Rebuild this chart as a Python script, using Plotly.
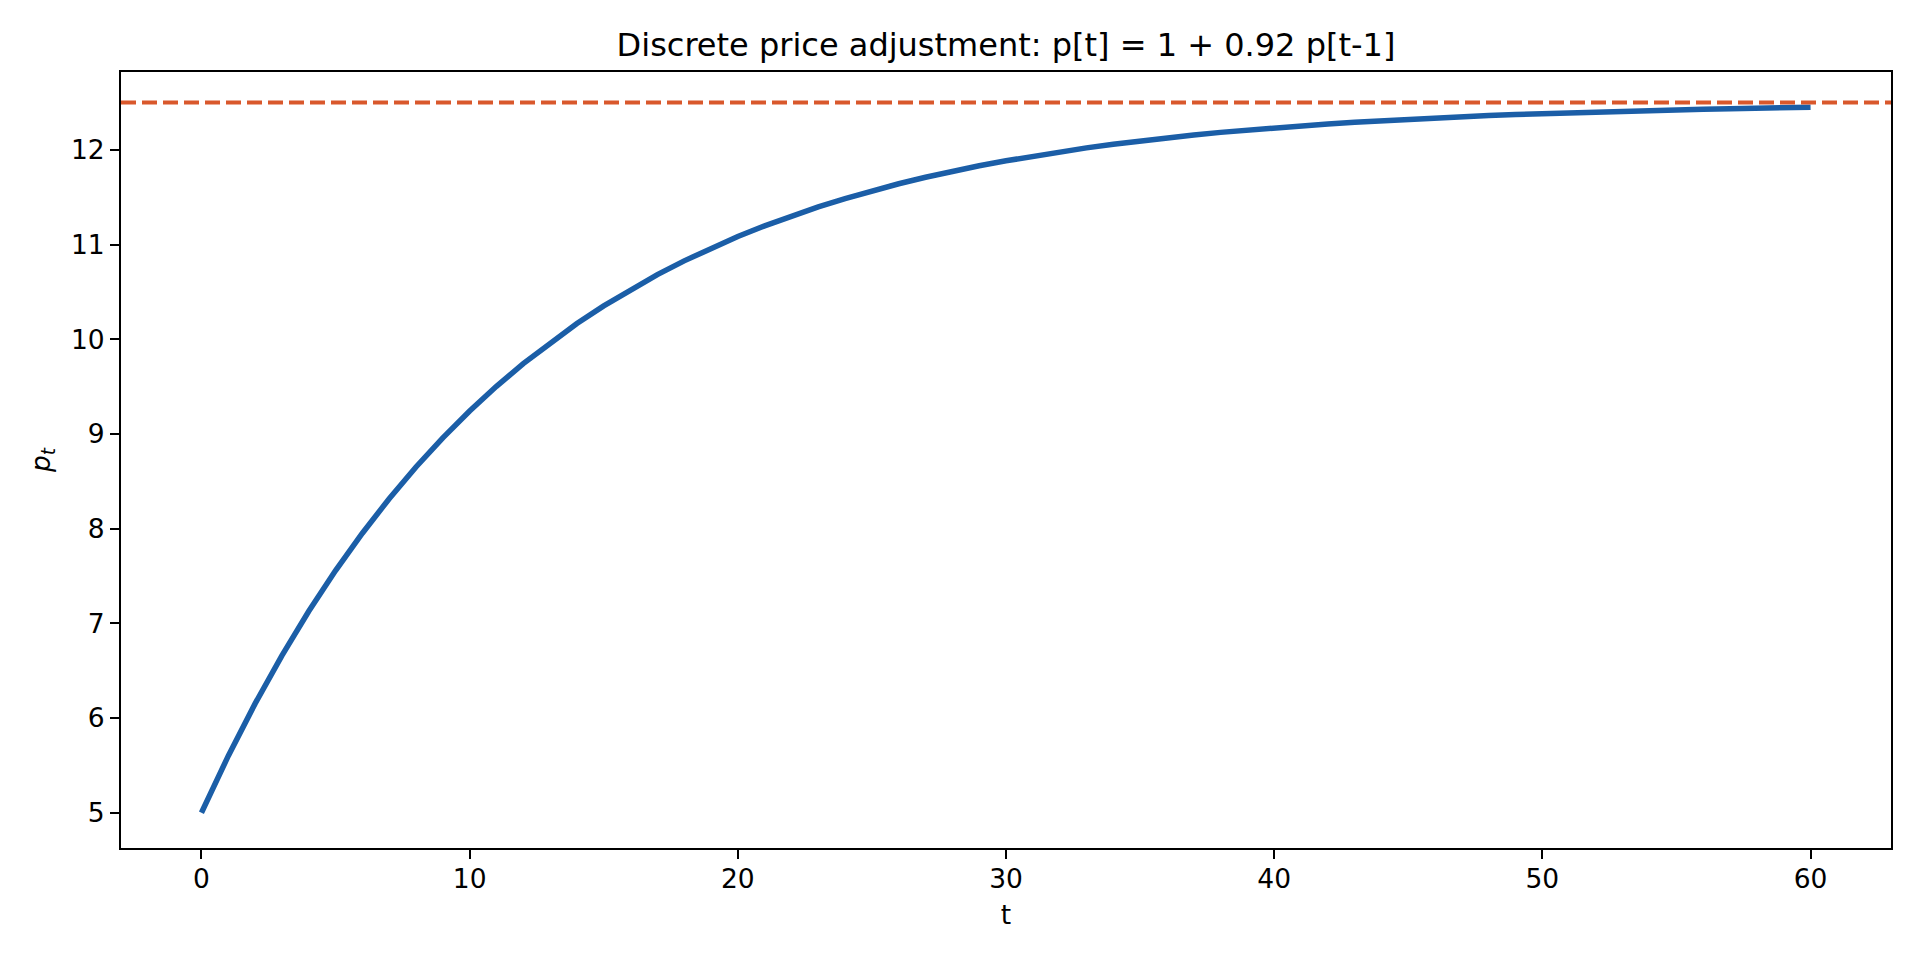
import plotly.graph_objects as go

# periods and prices
t = list(range(61))
p = [5.000, 5.600, 6.152, 6.660, 7.127, 7.557, 7.952, 8.316, 8.651, 8.959,
     9.242, 9.503, 9.743, 9.963, 10.166, 10.353, 10.525, 10.683, 10.828, 10.962,
     11.085, 11.198, 11.302, 11.398, 11.486, 11.567, 11.642, 11.711, 11.774, 11.832,
     11.885, 11.934, 11.980, 12.021, 12.060, 12.095, 12.127, 12.157, 12.185, 12.210,
     12.233, 12.254, 12.274, 12.292, 12.309, 12.324, 12.338, 12.351, 12.363, 12.374,
     12.384, 12.393, 12.402, 12.410, 12.417, 12.424, 12.430, 12.435, 12.440, 12.445,
     12.450]
steady_state = 12.5

x_ticks = [0, 10, 20, 30, 40, 50, 60]
y_ticks = [5, 6, 7, 8, 9, 10, 11, 12]

FONT = "DejaVu Sans"

fig = go.Figure()

# steady state line
fig.add_hline(y=steady_state, line=dict(color="#d9582c", width=4, dash="15px,6px"))

fig.add_trace(go.Scatter(
    x=t, y=p, mode="lines",
    line=dict(color="#1b5ea7", width=5.5),
    showlegend=False
))

axis_common = dict(
    showgrid=False, zeroline=False,
    showline=True, linecolor="black", linewidth=2, mirror=True,
    ticks="outside", ticklen=9, tickwidth=2, tickcolor="black",
    tickfont=dict(family=FONT, size=26.5, color="black"),
)

# page body adds ~8px offset, margins compensate
fig.update_layout(
    width=1920, height=960,
    margin=dict(l=113, r=37, t=64, b=120),
    paper_bgcolor="white", plot_bgcolor="white",
    font=dict(family=FONT, color="black"),
    title=dict(
        text="Discrete price adjustment: p[t] = 1 + 0.92 p[t-1]",
        font=dict(family=FONT, size=32, color="black"),
        x=0.5, xanchor="center", xref="paper",
        y=1 - 37 / 960, yanchor="middle", yref="container",
    ),
    xaxis=dict(
        range=[-3, 63], tickvals=x_ticks,
        title=dict(text="t", font=dict(family=FONT, size=26.5), standoff=13),
        ticklabelstandoff=-3,
        **axis_common,
    ),
    yaxis=dict(
        range=[4.6275, 12.8225], tickvals=y_ticks,
        title=dict(text="<i>p</i><sub><i>t</i></sub>", font=dict(family=FONT, size=26.5), standoff=13),
        **axis_common,
    ),
)

fig.write_html("out.html")
